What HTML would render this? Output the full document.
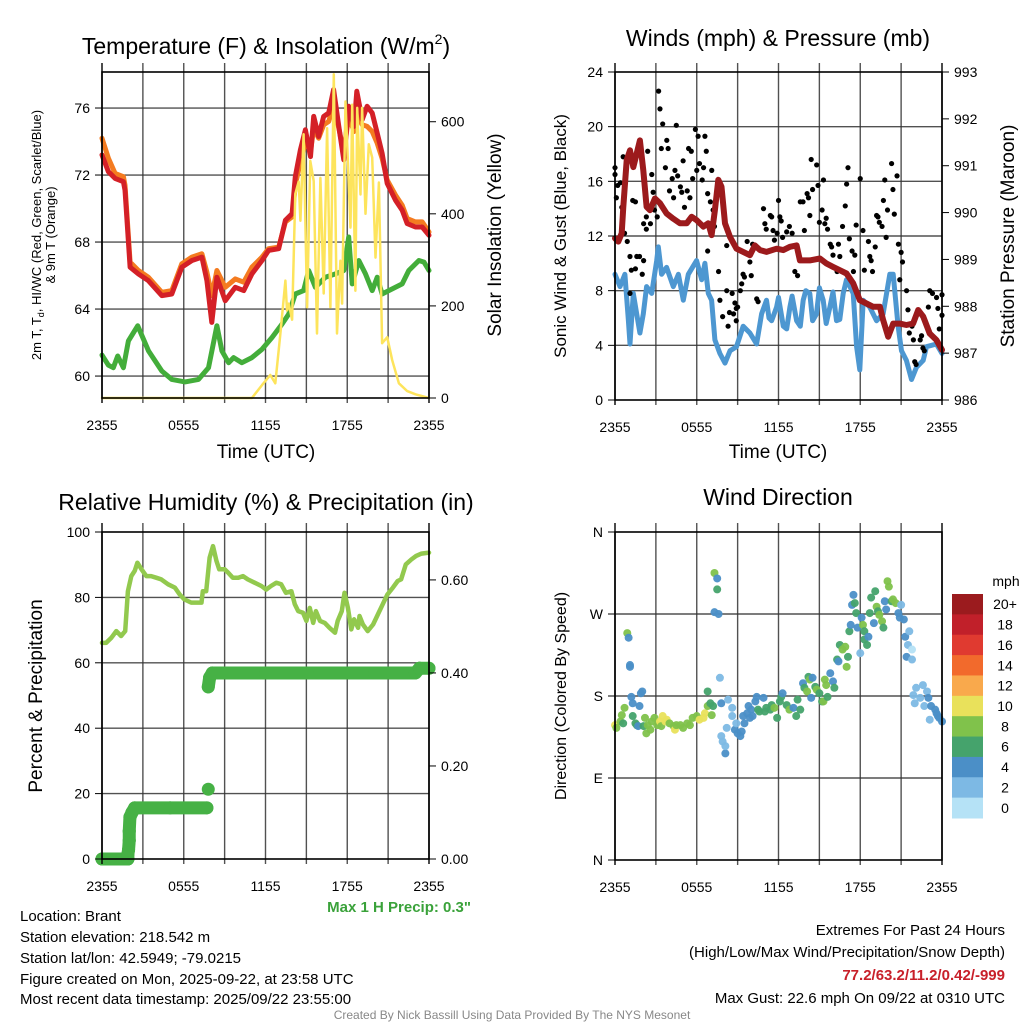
<!DOCTYPE html>
<html><head><meta charset="utf-8"><style>
html,body{margin:0;padding:0;background:#fff;}
svg{display:block;font-family:"Liberation Sans",Arial,sans-serif;}
</style></head><body>
<svg id="fig" width="1024" height="1024" viewBox="0 0 1024 1024" xmlns="http://www.w3.org/2000/svg">
<rect width="1024" height="1024" fill="#fff"/>
<g id="grids"></g>
<g id="data"></g>
<g id="frames"></g>
<g id="labels" fill="#000">
<text x="266" y="54" font-size="23" text-anchor="middle">Temperature (F) &amp; Insolation (W/m<tspan font-size="14" dy="-10">2</tspan><tspan dy="10">)</tspan></text>
<text x="778" y="46" font-size="23" text-anchor="middle">Winds (mph) &amp; Pressure (mb)</text>
<text x="266" y="510" font-size="23" text-anchor="middle">Relative Humidity (%) &amp; Precipitation (in)</text>
<text x="778" y="505" font-size="23" text-anchor="middle">Wind Direction</text>
<text x="266" y="458" font-size="19" text-anchor="middle">Time (UTC)</text>
<text x="778" y="458" font-size="19" text-anchor="middle">Time (UTC)</text>
<text transform="translate(41,235) rotate(-90)" font-size="13" text-anchor="middle">2m T, T<tspan font-size="9" dy="3">d</tspan><tspan dy="-3">, HI/WC (Red, Green, Scarlet/Blue)</tspan></text>
<text transform="translate(55,235) rotate(-90)" font-size="13" text-anchor="middle">&amp; 9m T (Orange)</text>
<text transform="translate(501,235) rotate(-90)" font-size="19" text-anchor="middle">Solar Insolation (Yellow)</text>
<text transform="translate(566,236) rotate(-90)" font-size="17" text-anchor="middle">Sonic Wind &amp; Gust (Blue, Black)</text>
<text transform="translate(1014,236) rotate(-90)" font-size="19" text-anchor="middle">Station Pressure (Maroon)</text>
<text transform="translate(42,696) rotate(-90)" font-size="19" text-anchor="middle">Percent &amp; Precipitation</text>
<text transform="translate(566,696) rotate(-90)" font-size="16" text-anchor="middle">Direction (Colored By Speed)</text>
<text x="471" y="912" font-size="15" font-weight="bold" fill="#3aa23a" text-anchor="end">Max 1 H Precip: 0.3"</text>
<g font-size="15">
<text x="20" y="921">Location: Brant</text>
<text x="20" y="942">Station elevation: 218.542 m</text>
<text x="20" y="963">Station lat/lon: 42.5949; -79.0215</text>
<text x="20" y="984">Figure created on Mon, 2025-09-22, at 23:58 UTC</text>
<text x="20" y="1004">Most recent data timestamp: 2025/09/22 23:55:00</text>
</g>
<g font-size="15" text-anchor="end">
<text x="1005" y="935">Extremes For Past 24 Hours</text>
<text x="1005" y="957">(High/Low/Max Wind/Precipitation/Snow Depth)</text>
<text x="1005" y="980" fill="#c8202a" font-weight="bold">77.2/63.2/11.2/0.42/-999</text>
<text x="1005" y="1003">Max Gust: 22.6 mph On 09/22 at 0310 UTC</text>
</g>
<text x="512" y="1019" font-size="12" fill="#888" text-anchor="middle">Created By Nick Bassill Using Data Provided By The NYS Mesonet</text>
</g>
<g id="colorbar"></g>
</svg>
<script>
// ---- Temperature panel data ----
const tempHours=[0,0.47,0.96,1.57,1.69,2.06,2.67,3.4,4.39,5.12,5.86,6.6,7.33,7.7,8.06,8.43,9.04,9.78,10.4,11,11.74,12.23,12.97,13.46,13.95,14.19,14.56,14.93,15.3,15.54,15.9,16.27,16.64,17.0,17.38,17.75,18.1,18.5,18.7,19.1,19.46,19.83,20.2,20.56,20.93,21.54,22.03,22.4,23.0,23.5,24];
const tempF=[73.2,72.2,71.8,71.6,71.1,66.5,66.1,65.7,64.8,64.9,66.5,66.9,67.1,65.7,63.2,65.9,64.5,65.3,65.1,66.1,66.9,67.5,67.6,69.3,69.7,71.9,73.5,74.7,73.1,75.5,74.3,75.5,75.7,77.1,74.9,72.9,76.1,74.9,77.0,75.3,76.1,75.7,74.5,73.3,71.5,70.5,69.9,69.1,68.9,68.9,68.4];
const temp9mF=[74.2,73.0,72.1,71.9,71.4,66.8,66.3,65.9,65.0,65.1,66.7,67.1,67.3,66.2,64.8,66.3,65.3,65.8,65.6,66.5,67.1,67.6,67.7,69.2,69.5,71.4,72.8,74.0,73.4,74.8,74.2,75.0,75.2,76.2,74.8,73.3,75.5,74.6,75.6,75.0,74.9,74.6,73.9,73.0,71.7,70.8,70.2,69.4,69.2,69.2,68.6];
const dewHours=[0,0.47,0.83,1.15,1.57,1.94,2.62,3.41,4.39,5.12,6.1,7.08,7.82,8.43,8.8,9.29,9.66,10.27,11.0,11.74,12.48,13.21,13.7,14.19,14.8,15.17,15.66,16.4,17.13,17.75,18.11,18.36,18.85,19.34,19.83,20.2,20.56,21.05,21.54,22.03,22.52,23.26,23.63,24];
const dewF=[61.25,60.65,60.5,61.2,60.5,62.1,63.0,61.5,60.3,59.8,59.65,59.8,60.5,63.0,61.5,60.8,61.1,60.8,61.1,61.6,62.3,63.1,63.7,64.9,65.1,66.3,65.3,65.9,66.1,66.3,68.3,65.5,66.9,66.1,65.1,65.9,64.9,65.1,65.3,65.5,66.3,66.9,66.8,66.3];
const solarHours=[0,11.0,11.74,12.35,12.72,13.09,13.46,13.58,13.7,13.95,14.19,14.44,14.56,14.8,15.05,15.29,15.54,15.78,16.03,16.27,16.52,16.76,17.01,17.25,17.5,17.62,17.87,18.24,18.36,18.6,18.73,18.97,19.09,19.34,19.58,19.83,20.07,20.32,20.56,20.93,21.3,21.79,22.4,23.01,24];
const solarWm2=[0,0,28,50,32,140,255,190,205,170,443,470,385,573,197,515,471,140,478,227,586,197,703,140,298,205,644,370,637,233,630,442,630,400,551,522,305,468,119,132,82,32,15,8,0];
const tempTicks=[60,64,68,72,76];
const solarTicks=[0,200,400,600];
const timeTickLabels=["2355","0555","1155","1755","2355"];
// ---- Wind panel data ----
const windHours=[0,0.37,0.73,0.98,1.1,1.34,1.59,1.83,2.08,2.32,2.69,3.06,3.18,3.42,3.79,4.28,4.65,5.01,5.38,5.99,6.36,6.6,6.85,7.09,7.33,7.7,8.07,8.44,8.92,9.41,9.9,10.39,10.76,11.12,11.3,11.49,11.86,12.0,12.35,12.6,12.84,13.0,13.33,13.6,13.81,14.0,14.3,14.5,14.79,15.0,15.28,15.5,15.77,16.0,16.26,16.5,16.75,16.99,17.48,17.73,17.97,18.22,18.7,19.19,19.68,20.17,20.42,20.78,21.03,21.39,21.76,22.13,22.62,22.86,23.59,24];
const windMph=[9.2,8.3,9.2,5.8,4.1,7.8,6.3,4.9,6.3,8.3,7.8,10.2,11.2,9.2,9.7,8.3,9.2,7.3,9.2,10.2,8.8,10.0,7.8,7.3,4.4,3.4,2.7,3.6,3.9,5.4,4.9,4.1,6.3,7.3,6.0,5.8,6.8,7.5,5.4,5.2,6.8,7.6,5.8,5.4,7.3,8.0,7.8,5.8,6.3,8.2,7.3,5.6,6.8,7.9,5.8,5.9,7.8,8.8,7.8,3.9,2.2,7.3,6.8,5.8,6.3,9.2,9.2,5.4,3.6,2.9,1.5,2.4,2.9,3.9,4.1,3.4];
const gustHours=[0,0,0.1,0.2,0.4,0.5,0.6,0.7,0.9,1.1,1.1,1.2,1.5,1.6,1.8,2.0,2.1,1.3,1.5,2.1,2.3,2.3,2.4,2.6,2.7,2.8,2.9,3.1,3.2,3.3,3.4,3.5,3.7,3.8,3.9,4.0,4.2,4.3,4.4,4.5,4.6,4.8,4.9,5.0,5.1,5.3,5.4,5.5,5.6,5.7,5.9,6.0,6.1,6.2,6.4,6.5,6.6,6.7,6.8,7.0,7.1,7.2,7.3,6.8,7.6,7.7,7.9,8.2,8.4,8.6,8.7,8.9,9.2,9.3,9.4,9.5,9.7,9.9,10.0,10.1,10.4,10.5,10.9,11.0,11.1,11.4,11.5,11.6,11.7,11.9,12.0,12.1,12.2,12.3,12.6,12.8,13.0,13.2,13.4,13.6,13.8,13.9,14.1,14.2,14.3,14.4,14.5,14.8,14.9,15.0,15.2,15.3,15.4,15.5,15.6,15.8,15.9,16.0,16.3,16.4,16.5,16.7,16.9,17.0,17.1,17.2,17.4,17.5,17.6,17.7,18.0,18.2,18.3,18.6,18.7,18.8,18.9,19.1,19.2,19.3,19.4,19.6,19.7,19.8,19.9,20.0,20.3,20.4,20.5,20.7,20.8,20.9,21.0,21.1,21.4,21.5,21.6,21.8,21.9,22.0,22.1,22.4,22.5,22.6,22.7,23.0,23.1,23.3,23.6,23.7,23.8,24.0,24.0,8.2,9.0,9.5,8.8,8.3,8.9];
const gustMph=[17.0,16.5,14.8,15.7,15.9,14.1,17.8,12.2,11.6,7.8,10.5,9.5,9.6,10.5,10.5,9.2,10.2,14.6,14.5,12.9,12.5,13.4,18.2,12.9,16.5,15.2,13.9,13.4,22.6,21.3,18.4,20.2,17.0,19.0,18.4,15.3,16.2,14.8,16.8,20.1,16.4,15.6,15.2,17.5,14.1,15.3,18.4,14.8,18.2,16.2,19.8,16.8,19.3,17.3,16.1,17.0,19.3,18.2,15.1,14.5,16.8,13.9,12.7,10.9,9.4,7.3,6.1,8.0,6.4,7.8,6.3,6.7,8.0,8.5,9.2,10.8,11.6,10.1,9.1,11.4,7.4,7.2,14.0,12.9,12.5,13.5,13.4,12.4,11.7,12.2,14.6,13.4,13.1,11.9,12.3,12.7,12.2,9.4,9.1,14.5,14.5,12.4,15.1,14.8,13.5,17.6,15.4,17.2,15.7,13.0,13.9,16.1,12.9,13.3,12.5,11.4,11.2,10.6,9.4,11.4,10.5,12.7,14.2,15.8,17.0,11.8,10.9,9.4,10.6,12.8,16.2,12.4,9.5,11.6,10.5,10.2,9.4,11.2,13.5,13.4,13.0,12.7,14.6,16.1,11.9,13.9,17.3,15.4,13.6,16.4,11.4,8.8,10.8,10.1,8.0,6.6,4.9,5.4,4.4,2.8,2.6,4.4,4.7,3.8,3.6,6.8,8.0,7.8,7.5,6.7,5.2,6.2,7.7,11.3,6.8,9.0,7.1,5.4,5.8];
const presHours=[0,0.24,0.49,0.61,0.86,1.1,1.34,1.59,1.83,2.08,2.32,2.57,2.93,3.3,3.79,4.28,4.77,5.26,5.62,5.99,6.48,6.85,7.09,7.33,7.58,7.82,8.07,8.44,8.92,9.41,9.9,10.27,10.64,11.12,11.86,12.35,12.84,13.33,13.57,14.3,15.04,15.53,16.01,16.5,16.99,17.48,17.97,18.46,18.95,19.44,19.68,20.05,20.42,20.9,21.39,21.88,22.25,22.62,23.1,23.59,24];
const presMb=[989.45,989.38,989.56,990.12,991.12,991.33,990.97,991.26,991.54,990.9,990.12,990.05,990.3,990.2,989.98,989.87,989.77,989.77,989.91,989.84,989.7,989.77,989.52,990.05,990.7,990.55,989.77,989.48,989.23,989.16,989.09,989.3,989.2,989.16,989.23,989.2,989.27,989.3,988.98,988.98,989.02,988.91,988.84,988.77,988.7,988.49,988.13,988.06,987.99,987.99,987.71,987.35,987.63,987.63,987.6,987.63,987.92,987.78,987.42,987.28,987.07];
const windTicks=[0,4,8,12,16,20,24];
const presTicks=[986,987,988,989,990,991,992,993];
// ---- RH / precip data ----
const rhHours=[0,0.3,0.7,1.05,1.4,1.7,1.9,2.15,2.4,2.6,2.9,3.25,3.6,4.0,4.35,4.85,5.35,5.7,6.05,6.55,7.05,7.3,7.4,7.65,7.9,8.15,8.4,8.6,9.0,9.25,9.6,10.0,10.35,10.7,11.2,11.7,12.05,12.4,12.8,13.15,13.5,13.9,14.15,14.4,14.75,15.0,15.25,15.5,15.7,16.0,16.35,16.7,17.1,17.3,17.6,17.8,18.05,18.3,18.5,18.8,18.9,19.15,19.5,19.9,20.25,20.6,20.95,21.35,21.7,21.95,22.3,22.7,23.05,23.45,24];
const rhPct=[66.1,66.1,67.7,69.7,68.2,69.7,81.9,86.5,88.1,90.6,88.6,86.5,86.5,86.0,85.5,84.0,83.0,80.9,79.4,78.4,78.4,78.4,81.9,81.9,92.1,95.7,91.1,88.6,88.6,87.6,86.0,86.0,86.5,85.5,84.5,83.5,82.4,83.5,84.5,84.0,81.4,81.9,77.9,75.8,75.3,72.8,76.8,72.2,75.8,72.8,72.2,70.7,69.2,72.8,75.8,81.4,76.8,70.2,73.3,70.7,74.3,71.7,69.7,71.7,74.8,77.9,80.9,83.0,85.0,85.5,90.1,91.6,92.7,93.4,93.7];
const precipHours=[0,0.5,1.0,1.5,1.9,1.9,1.95,2.0,2.0,2.05,2.2,2.4,5.0,7.7,7.8,7.8,7.9,8.1,12,16,20,23.0,23.3,24];
const precipIn=[0,0,0,0,0,0.01,0.02,0.04,0.06,0.09,0.10,0.11,0.11,0.11,0.15,0.37,0.39,0.40,0.40,0.40,0.40,0.40,0.41,0.41];
const rhTicks=[0,20,40,60,80,100];
const precipTicks=[0,0.2,0.4,0.6];
const precipTickLabels=["0.00","0.20","0.40","0.60"];
// ---- Wind direction data ----
const wdHours=[
0,0.1,0.4,0.5,0.7,0.6,0.9,1.0,1.1,1.1,
1.2,1.3,1.3,1.5,1.6,1.7,1.8,1.9,2.0,2.1,
2.2,2.3,2.4,2.6,2.7,2.9,3.1,3.3,3.4,3.5,
3.7,3.8,4.0,4.3,4.4,4.5,4.8,5.0,5.3,5.5,
5.7,6.0,6.2,6.5,6.6,6.8,6.8,7.0,7.1,7.2,
7.3,7.5,7.5,7.3,7.6,7.8,7.7,7.8,7.9,8.1,
8.1,8.2,8.3,8.6,8.6,8.8,8.9,9.0,9.2,9.3,
9.4,9.5,9.7,9.8,9.9,10.0,10.1,10.3,10.4,10.5,
10.6,10.9,11.0,11.1,11.4,11.5,11.7,11.9,12.1,12.2,
12.3,12.6,12.8,13.1,13.3,13.4,13.6,13.8,13.9,14.1,
14.2,14.3,14.4,14.5,14.7,14.8,15.0,15.2,15.3,15.4,
15.5,15.6,15.8,16.0,16.1,16.3,16.4,16.5,16.7,16.9,
17.0,17.1,17.2,17.3,17.4,17.5,17.6,17.7,17.8,18.0,
18.1,18.2,18.3,18.3,18.5,18.6,18.7,18.8,19.0,19.1,
19.2,19.3,19.4,19.6,19.7,19.8,19.9,20.0,20.1,20.3,
20.4,20.6,20.8,20.9,21.0,21.2,21.3,21.4,21.5,21.6,
21.8,21.8,21.9,22.0,22.1,22.4,22.6,22.7,22.9,23.0,
23.1,23.2,23.5,23.6,23.7,23.8,24.0];
const wdDeg=[
148,145,152,159,167,150,249,244,214,212,
179,172,158,150,148,147,169,183,185,147,
156,139,148,143,152,156,148,152,147,158,
152,154,150,147,143,148,148,145,150,148,
156,158,154,156,161,169,185,172,159,169,
315,309,297,272,270,172,200,136,130,117,
125,145,176,167,158,143,150,139,136,141,
158,150,161,169,156,165,158,174,179,165,
163,178,163,167,165,170,167,156,174,179,
183,170,165,167,158,176,165,194,189,185,
201,198,178,200,190,187,183,174,174,198,
192,179,205,196,189,220,218,236,231,234,
212,223,251,258,280,291,282,271,255,227,
266,258,251,242,236,245,271,288,260,295,
278,273,269,262,255,284,275,306,300,284,
286,282,271,266,280,264,245,223,236,251,
231,220,181,172,189,178,192,169,185,178,
154,169,165,161,158,156,152];
const wdSpeed=[
10,8,8,8,8,6,8,4,4,4,
4,4,6,6,6,4,4,4,4,6,
8,8,8,8,8,8,8,10,8,10,
10,10,8,8,10,8,8,8,8,8,
8,8,10,10,10,8,6,6,8,6,
8,4,6,4,4,4,2,2,2,4,
2,2,2,2,2,4,2,4,4,4,
4,4,4,4,4,4,4,4,4,6,
6,4,6,6,6,6,8,6,6,6,
4,6,8,4,6,6,6,4,6,8,
6,8,4,4,6,8,6,6,8,8,
8,6,4,4,6,6,4,6,8,8,
8,6,6,4,4,4,6,6,4,2,
4,8,6,6,6,4,6,6,4,6,
8,6,8,8,6,4,4,8,8,6,
8,8,4,4,2,4,4,4,2,2,
1,2,2,2,2,2,2,2,2,4,
2,4,4,4,4,4,4];
const dirTickLabels=["N","E","S","W","N"];
const speedBinLabels=["0","2","4","6","8","10","12","14","16","18","20+"];
const speedColors=["#b5e2f6","#7db9e4","#4b8fc7","#45a36c","#80c24b","#e9e15b","#f9a94c","#f26a2c","#e03a30","#c1202a","#9b1b1e"];

const NS="http://www.w3.org/2000/svg";
const G=id=>document.getElementById(id);
function mk(tag,attrs,parent){const e=document.createElementNS(NS,tag);for(const k in attrs)e.setAttribute(k,attrs[k]);parent.appendChild(e);return e;}
const P1={x0:102,x1:429,y0:72,y1:398}, P2={x0:615,x1:942,y0:72,y1:400}, P3={x0:102,x1:429,y0:532,y1:859}, P4={x0:615,x1:942,y0:532,y1:860};
function sx(p,h){return p.x0+h/24*(p.x1-p.x0);}
function sy(p,v,lo,hi){return p.y1-(v-lo)/(hi-lo)*(p.y1-p.y0);}
function axisFrame(p,name,leftTicks,lo,hi,leftLabels,rTicks,rlo,rhi,rLabels){
  const g=G('grids'), f=G('frames'), L=G('labels');
  for(let h=3;h<24;h+=3){const x=sx(p,h);const l=mk('line',{x1:x,x2:x,y1:p.y0-9,y2:p.y1+5,stroke:'#333','stroke-width':1.4,'stroke-opacity':0.85},g);
    
    }
  [0,24].forEach(h=>{const x=sx(p,h);mk('line',{x1:x,x2:x,y1:p.y0-9,y2:p.y1+5,stroke:'#000','stroke-width':1.4},f);});
  leftTicks.forEach((v,i)=>{const y=sy(p,v,lo,hi);
    if(y>p.y0+1&&y<p.y1-1){const l=mk('line',{x1:p.x0,x2:p.x1,y1:y,y2:y,stroke:'#333','stroke-width':1.4,'stroke-opacity':0.85},g);
      
      }
    mk('line',{x1:p.x0-7,x2:p.x0,y1:y,y2:y,stroke:'#000','stroke-width':1},f);
    const t=mk('text',{x:p.x0-12,y:y+5,'font-size':14,'text-anchor':'end'},L);t.textContent=leftLabels[i];
    
    });
  if(rTicks){rTicks.forEach((v,i)=>{const y=sy(p,v,rlo,rhi);
    mk('line',{x1:p.x1,x2:p.x1+7,y1:y,y2:y,stroke:'#000','stroke-width':1},f);
    const t=mk('text',{x:p.x1+12,y:y+5,'font-size':14},L);t.textContent=rLabels[i];
    
    });}
  mk('rect',{x:p.x0,y:p.y0,width:p.x1-p.x0,height:p.y1-p.y0,fill:'none',stroke:'#000','stroke-width':1.6},f);
  timeTickLabels.forEach((s,i)=>{const t=mk('text',{x:sx(p,i*6),y:p.y1+32,'font-size':14,'text-anchor':'middle'},L);t.textContent=s;
    
    });
}
function line(p,xs,ys,lo,hi,color,w,name){
  const d=xs.map((h,i)=>(i?'L':'M')+sx(p,h).toFixed(1)+','+sy(p,ys[i],lo,hi).toFixed(1)).join('');
  const e=mk('path',{d:d,fill:'none',stroke:color,'stroke-width':w,'stroke-linejoin':'round','stroke-linecap':'round'},G('data'));
  
  
  return e;
}
// Panel 1
const T_LO=58.69,T_HI=78.15,S_LO=0,S_HI=708;
axisFrame(P1,'temp',tempTicks,T_LO,T_HI,tempTicks.map(String),solarTicks,S_LO,S_HI,solarTicks.map(String));
line(P1,dewHours,dewF,T_LO,T_HI,'#43ad3a',5,'dewpoint-line');
line(P1,tempHours,temp9mF,T_LO,T_HI,'#f47b20',5,'temp-9m-line');
line(P1,tempHours,tempF,T_LO,T_HI,'#d42027',5,'temp-2m-line');
line(P1,solarHours,solarWm2,S_LO,S_HI,'#fde45c',2.5,'insolation-line');
// Panel 2
const W_LO=0,W_HI=24,P_LO=986,P_HI=993;
axisFrame(P2,'wind',windTicks,W_LO,W_HI,windTicks.map(String),presTicks,P_LO,P_HI,presTicks.map(String));
line(P2,windHours,windMph,W_LO,W_HI,'#4d97d1',5,'wind-speed-line');
gustHours.forEach((h,i)=>{const c=mk('circle',{cx:sx(P2,h),cy:sy(P2,gustMph[i],W_LO,W_HI),r:2.6,fill:'#000'},G('data'));
  
  });
line(P2,presHours,presMb,P_LO,P_HI,'#9c1a1c',6,'pressure-line');
// Panel 3
const R_LO=0,R_HI=100,PR_LO=0,PR_HI=0.703;
axisFrame(P3,'rh',rhTicks,R_LO,R_HI,rhTicks.map(String),precipTicks,PR_LO,PR_HI,precipTickLabels);
line(P3,rhHours,rhPct,R_LO,R_HI,'#92c94e',4.5,'rh-line');
precipHours.forEach((h,i)=>{
  if(i>0&&Math.abs(precipIn[i]-precipIn[i-1])<0.035){
    const l=mk('line',{x1:sx(P3,precipHours[i-1]),y1:sy(P3,precipIn[i-1],PR_LO,PR_HI),x2:sx(P3,h),y2:sy(P3,precipIn[i],PR_LO,PR_HI),stroke:'#46b145','stroke-width':13,'stroke-linecap':'round'},G('data'));
    
    }
  const c=mk('circle',{cx:sx(P3,h),cy:sy(P3,precipIn[i],PR_LO,PR_HI),r:6.5,fill:'#46b145'},G('data'));
  
  });
// Panel 4
axisFrame(P4,'direction',[0,90,180,270,360],0,360,dirTickLabels,null);
wdHours.forEach((h,i)=>{if(wdDeg[i]===undefined)return;const idx=Math.min(10,Math.floor(wdSpeed[i]/2));
  const c=mk('circle',{cx:sx(P4,h),cy:sy(P4,wdDeg[i],0,360),r:4,fill:speedColors[idx],'fill-opacity':0.95},G('data'));
  
  });
// Colorbar
const cb=G('colorbar');


const cbTop=594,cbH=224/11;
speedBinLabels.forEach((s,i)=>{const j=10-i;const y=cbTop+i*cbH;
  const r=mk('rect',{x:952,y:y,width:31,height:cbH+0.5,fill:speedColors[j]},cb);
  
  
  const t=mk('text',{x:1005,y:y+cbH/2+5,'font-size':14,'text-anchor':'middle'},cb);t.textContent=speedBinLabels[j];
  
  });
const mph=mk('text',{x:1006,y:586,'font-size':14,'text-anchor':'middle'},cb);mph.textContent='mph';


</script>
</body></html>
